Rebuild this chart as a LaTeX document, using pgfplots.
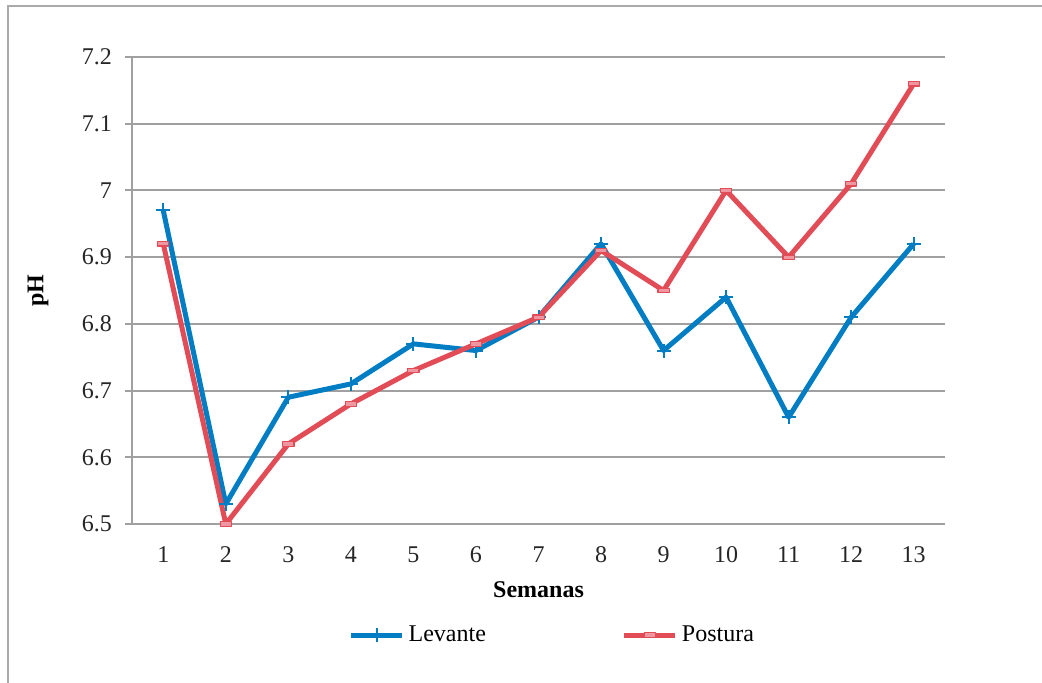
\documentclass[border=0pt]{standalone}
\usepackage{pgfplots}
\pgfplotsset{compat=1.18}
\usepackage{fontspec}
\setmainfont{Liberation Serif}
\definecolor{levante}{RGB}{0,125,195}
\definecolor{postura}{RGB}{226,76,86}
\definecolor{postmark}{RGB}{240,150,160}
\definecolor{gridgray}{RGB}{160,160,160}
\definecolor{framegray}{RGB}{170,170,170}

% weekly pH readings
\pgfplotstableread{
sem levante postura
1  6.97 6.92
2  6.53 6.50
3  6.69 6.62
4  6.71 6.68
5  6.77 6.73
6  6.76 6.77
7  6.81 6.81
8  6.92 6.91
9  6.76 6.85
10 6.84 7.00
11 6.66 6.90
12 6.81 7.01
13 6.92 7.16
}\phdata

\begin{document}
\begin{tikzpicture}
\useasboundingbox (0pt,0pt) rectangle (521pt,-341.5pt);
% chart area frame
\draw[framegray, line width=0.75pt] (4pt,-345pt) -- (4pt,-3pt) -- (525pt,-3pt);
\begin{axis}[
  at={(66pt,-262pt)}, anchor=origin,
  scale only axis,
  width=406.5pt, height=233.5pt,
  xmin=0.5, xmax=13.5,
  ymin=6.5, ymax=7.2,
  xtick={1,...,13},
  ytick={6.5,6.6,...,7.2},
  axis x line=bottom, axis y line=left,
  axis line style={gridgray, line width=1pt, -},
  ymajorgrids,
  grid style={gridgray, line width=1pt},
  tick align=outside,
  major tick length=3.5pt,
  xtick style={draw=none},
  ytick style={gridgray, line width=1pt},
  font=\fontsize{12}{14}\selectfont,
  tick label style={font=\fontsize{12}{14}\selectfont, text=black!85},
  /pgf/number format/assume math mode=true,
  /pgf/number format/fixed,
  yticklabel style={xshift=-3pt},
  xticklabel style={anchor=base, yshift=-15.5pt},
  xlabel={\textbf{Semanas}},
  ylabel={\textbf{pH}},
  every axis x label/.style={at={(axis description cs:0.5,0)}, anchor=center, yshift=-33pt, font=\fontsize{12}{14}\selectfont},
  every axis y label/.style={at={(axis description cs:-0.1156,0.5)}, anchor=center, rotate=90, font=\fontsize{12}{14}\selectfont},
  legend columns=2,
  legend style={draw=none, fill=none, at={(axis description cs:0.266,0)}, anchor=west, yshift=-55.5pt,
    font=\fontsize{12}{14}\selectfont, inner sep=0pt,
    /tikz/every even column/.append style={column sep=66pt}},
  legend image code/.code={
    \draw[mark repeat=2,mark phase=2,#1] plot coordinates {(0pt,0pt) (12.75pt,0pt) (25.5pt,0pt)};
  },
]
\addplot[levante, line width=2.5pt, line join=round,
  mark=+, mark size=3.5pt, mark options={line width=1pt, levante}]
  table[x=sem, y=levante] {\phdata};
\addlegendentry{Levante}
\addplot[postura, line width=2.5pt, line join=round,
  mark=square*, mark size=2.8pt,
  mark options={yscale=0.4, line width=0.6pt, draw=postura, fill=postmark}]
  table[x=sem, y=postura] {\phdata};
\addlegendentry{Postura}
\end{axis}
\end{tikzpicture}
\end{document}
